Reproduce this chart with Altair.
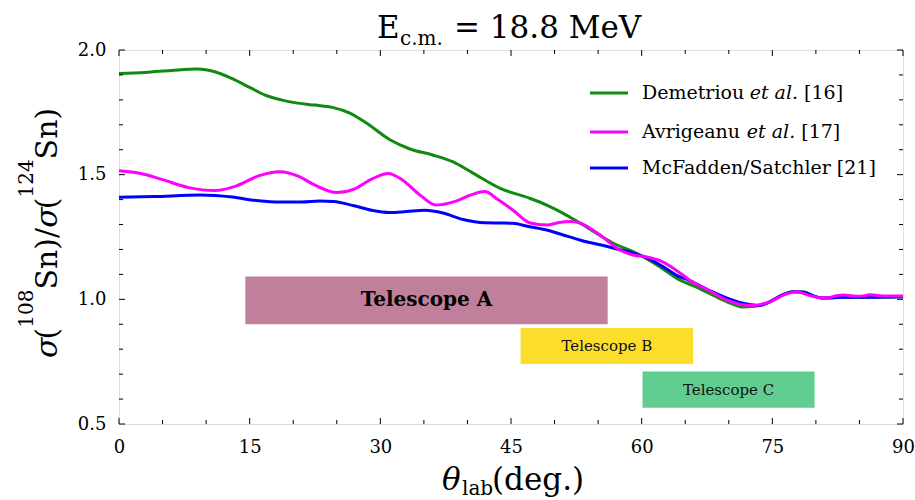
import altair as alt
import pandas as pd

# ---------------- data ----------------
series_names = ["Demetriou et al. [16]", "Avrigeanu et al. [17]", "McFadden/Satchler [21]"]
series_colors = ["#108a10", "#ff00ff", "#0000ff"]

dem_theta = [0, 3, 6, 9, 11, 13, 15, 16.7, 18.6, 20.5, 22.5, 24.5, 26.5, 28.4, 31.1, 33.4, 36.0,
             38.3, 40.6, 43.7, 47.1, 49.1, 51, 52.9, 56.7, 59.8, 62.1, 64.4, 65.9, 68, 69.8, 71.6,
             73, 74.7, 76, 77.3, 78.5, 79.8, 80.8, 83, 86, 90]
dem_ratio = [1.906, 1.910, 1.918, 1.924, 1.913, 1.885, 1.850, 1.820, 1.800, 1.787, 1.779, 1.770,
             1.747, 1.707, 1.640, 1.603, 1.579, 1.552, 1.507, 1.446, 1.406, 1.378, 1.345, 1.306,
             1.226, 1.178, 1.130, 1.077, 1.055, 1.020, 0.990, 0.969, 0.972, 0.990, 1.015, 1.030,
             1.030, 1.013, 1.005, 1.008, 1.008, 1.010]

avr_theta = [0, 2.5, 5, 8, 11, 13.5, 16, 18.5, 20.5, 22.5, 25.0, 27, 29, 30.9, 32.5, 34.5, 36.4,
             38.5, 40.5, 42.0, 43.5, 45.2, 47.2, 49.1, 50.5, 51.8, 52.9, 54.9, 57.5, 59, 60.6, 62.1,
             64.4, 65.5, 67.5, 69.8, 71.5, 72.8, 74.7, 76.5, 77.8, 79.3, 80.8, 83.1, 85, 86.2, 88, 90]
avr_ratio = [1.516, 1.505, 1.480, 1.448, 1.436, 1.455, 1.495, 1.512, 1.495, 1.458, 1.428, 1.442,
             1.482, 1.505, 1.480, 1.420, 1.378, 1.392, 1.420, 1.432, 1.400, 1.358, 1.306, 1.298,
             1.308, 1.312, 1.306, 1.266, 1.198, 1.178, 1.170, 1.155, 1.106, 1.077, 1.040, 0.997,
             0.978, 0.975, 0.990, 1.020, 1.030, 1.015, 1.005, 1.017, 1.012, 1.018, 1.013, 1.013]

mcf_theta = [0, 4, 9.3, 13, 16, 18.5, 21, 23, 24.6, 27, 29, 31.1, 33, 35.1, 37.2, 39.5, 42.0, 44,
             45.2, 47, 49.1, 51, 52.9, 56.7, 60.6, 62.5, 64.4, 65.2, 67.5, 69.8, 72.1, 73.5, 74.7,
             76, 77.5, 78.5, 80, 80.8, 83, 86, 90]
mcf_ratio = [1.409, 1.412, 1.418, 1.410, 1.395, 1.390, 1.390, 1.394, 1.392, 1.375, 1.357, 1.348,
             1.352, 1.357, 1.346, 1.320, 1.307, 1.306, 1.305, 1.292, 1.278, 1.258, 1.238, 1.206,
             1.166, 1.130, 1.090, 1.080, 1.040, 1.005, 0.981, 0.975, 0.990, 1.015, 1.030, 1.028,
             1.010, 1.005, 1.008, 1.008, 1.010]

tel_names = ["Telescope A", "Telescope B", "Telescope C"]
tel_theta_start = [14.5, 46.1, 60.1]
tel_theta_end = [56.1, 65.9, 79.85]
tel_ratio_low = [0.900, 0.741, 0.565]
tel_ratio_high = [1.092, 0.885, 0.711]
tel_colors = ["#c0809c", "#fddd2b", "#62cd90"]

x_tick_labels = [0, 15, 30, 45, 60, 75, 90]
x_tick_all = list(range(0, 91, 5))
y_tick_labels = [0.5, 1.0, 1.5, 2.0]
y_tick_all = [round(0.5 + 0.1 * i, 1) for i in range(16)]

# ---------------- layout ----------------
W, H = 784, 374
LEFT, TOP = 119, 50
SERIF = "DejaVu Serif"

xs = alt.Scale(domain=[0, 90], nice=False, zero=False)
ys = alt.Scale(domain=[0.5, 2.0], nice=False, zero=False)
xax = alt.Axis(values=x_tick_labels, ticks=False, domain=False, grid=False, title=None,
               labelFlush=False, labelFont=SERIF, labelFontSize=18, labelColor="black",
               labelPadding=14)
yax = alt.Axis(values=y_tick_labels, format=".1f", ticks=False, domain=False, grid=False,
               title=None, labelFlush=False, labelFont=SERIF, labelFontSize=18,
               labelColor="black", labelPadding=13)

layers = []

tel_df = pd.DataFrame({"name": tel_names, "t0": tel_theta_start, "t1": tel_theta_end,
                       "r0": tel_ratio_low, "r1": tel_ratio_high})
bands = alt.Chart(tel_df).mark_rect().encode(
    x=alt.X("t0:Q", scale=xs, axis=xax), x2="t1:Q",
    y=alt.Y("r0:Q", scale=ys, axis=yax), y2="r1:Q",
    color=alt.Color("name:N", scale=alt.Scale(domain=tel_names, range=tel_colors), legend=None),
)
layers.append(bands)

tel_text_base = alt.Chart(tel_df).transform_calculate(
    tm="(datum.t0 + datum.t1) / 2", rm="(datum.r0 + datum.r1) / 2")
layers.append(tel_text_base.transform_filter("datum.name == 'Telescope A'").mark_text(
    font=SERIF, fontSize=20, fontWeight="bold", color="black", baseline="middle", align="center"
).encode(x=alt.X("tm:Q", scale=xs, axis=xax), y=alt.Y("rm:Q", scale=ys, axis=yax), text="name:N"))
layers.append(tel_text_base.transform_filter("datum.name != 'Telescope A'").mark_text(
    font=SERIF, fontSize=15, color="#111111", baseline="middle", align="center"
).encode(x=alt.X("tm:Q", scale=xs, axis=xax), y=alt.Y("rm:Q", scale=ys, axis=yax), text="name:N"))

curve_data = {
    series_names[0]: (dem_theta, dem_ratio, series_colors[0]),
    series_names[2]: (mcf_theta, mcf_ratio, series_colors[2]),
    series_names[1]: (avr_theta, avr_ratio, series_colors[1]),
}
for name, (th, r, col) in curve_data.items():
    df = pd.DataFrame({"theta": th, "ratio": r, "series": name})
    layers.append(alt.Chart(df).mark_line(strokeWidth=3, interpolate="monotone", color=col).encode(
        x=alt.X("theta:Q", scale=xs, axis=xax), y=alt.Y("ratio:Q", scale=ys, axis=yax)))

def xticks(vals, length):
    d = pd.DataFrame({"t": vals})
    bot = alt.Chart(d).mark_rule(color="black", strokeWidth=1).encode(
        x=alt.X("t:Q", scale=xs, axis=xax), y=alt.value(H), y2=alt.value(H - length))
    top = alt.Chart(d).mark_rule(color="black", strokeWidth=1).encode(
        x=alt.X("t:Q", scale=xs, axis=xax), y=alt.value(0), y2=alt.value(length))
    return [bot, top]

def yticks(vals, length):
    d = pd.DataFrame({"t": vals})
    lft = alt.Chart(d).mark_rule(color="black", strokeWidth=1).encode(
        y=alt.Y("t:Q", scale=ys, axis=yax), x=alt.value(0), x2=alt.value(length))
    rgt = alt.Chart(d).mark_rule(color="black", strokeWidth=1).encode(
        y=alt.Y("t:Q", scale=ys, axis=yax), x=alt.value(W), x2=alt.value(W - length))
    return [lft, rgt]

layers += xticks([t for t in x_tick_all if t % 15 == 0], 6)
layers += xticks([t for t in x_tick_all if t % 15 != 0], 4)
layers += yticks([t for t in y_tick_all if t in y_tick_labels], 6)
layers += yticks([t for t in y_tick_all if t not in y_tick_labels], 4)

# ---------------- text helpers (DejaVu Serif advance widths, 1/1000 em) ----------------
one = pd.DataFrame({"k": [0]})
TW = {'(': 390, ')': 390, '/': 337, 'S': 685, 'n': 644, ' ': 318, '=': 838, '.': 318, 'M': 995,
      'e': 592, 'V': 770, 'E': 730, 'c': 560, 'm': 948, 'D': 771, 't': 402, 'r': 478, 'i': 320,
      'o': 602, 'u': 644, 'A': 722, 'v': 565, 'g': 640, 'a': 596, 'l': 320, 'σ': 620, '[': 390,
      ']': 390, 'd': 640, 'b': 640}
for dgt in "0123456789":
    TW[dgt] = 636
ITW = dict(TW)

def tw(s, size, italic=False):
    tab = ITW if italic else TW
    return sum(tab.get(ch, 600) for ch in s) * size / 1000.0

def txt(s, x, y, size, style="normal", weight="normal", angle=0, align="left",
        baseline="alphabetic", color="black"):
    return alt.Chart(one).mark_text(
        text=s, font=SERIF, fontSize=size, fontStyle=style, fontWeight=weight, angle=angle,
        align=align, baseline=baseline, color=color
    ).encode(x=alt.value(x), y=alt.value(y))

# title: E_c.m. = 18.8 MeV
layers.append(txt("E", 258, -12, 31))
layers.append(txt("c.m.", 281, -5, 20))
layers.append(txt("= 18.8 MeV", 335, -12, 31))

# x label: θ_lab(deg.)
layers.append(txt("θ", 323, 440, 31, style="italic"))
layers.append(txt("lab", 343, 445, 20))
layers.append(txt("(deg.)", 373, 440, 31))

# y label: σ(108Sn)/σ(124Sn), rotated
MAIN, SUP = 30, 20
pieces = [("σ", MAIN, True), ("(", MAIN, False), ("108", SUP, False), ("Sn)/", MAIN, False),
          ("σ", MAIN, True), ("(", MAIN, False), ("124", SUP, False), ("Sn)", MAIN, False)]
ypos = 308.0
for s, size, it in pieces:
    xb = -62 if size == MAIN else -86
    layers.append(txt(s, xb, ypos, size, style="italic" if it else "normal", angle=270))
    ypos -= tw(s, size, it)

# legend (manual, with italic "et al.")
LEG = 19
rows = [43, 82, 118]
leg_parts = [
    [("Demetriou", False), ("et al.", True), ("[16]", False)],
    [("Avrigeanu", False), ("et al.", True), ("[17]", False)],
    [("McFadden/Satchler [21]", False)],
]
for ry, col, parts in zip(rows, series_colors, leg_parts):
    layers.append(alt.Chart(one).mark_rule(color=col, strokeWidth=3).encode(
        x=alt.value(471), x2=alt.value(509), y=alt.value(ry)))
    xp = 523.0
    for s, it in parts:
        layers.append(txt(s, xp, ry, LEG, style="italic" if it else "normal", baseline="middle"))
        xp += tw(s + " ", LEG, it)

chart = alt.layer(*layers).properties(
    width=W, height=H,
    autosize=alt.AutoSizeParams(type="none"),
    padding={"left": LEFT, "top": TOP, "right": 915 - LEFT - W, "bottom": 500 - TOP - H},
).configure_view(stroke="black", strokeWidth=1.5).configure(background="white")

chart.save("out.html", embed_options={"renderer": "svg", "actions": False})
